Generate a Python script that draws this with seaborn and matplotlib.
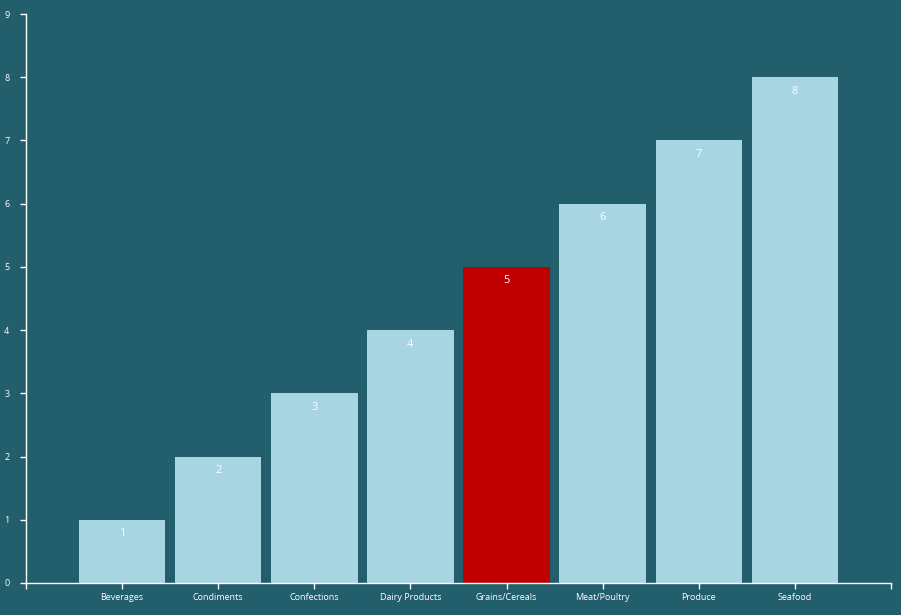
import matplotlib
matplotlib.use("Agg")
import matplotlib.pyplot as plt
import seaborn as sns
import pandas as pd

categories = ["Beverages", "Condiments", "Confections", "Dairy Products",
              "Grains/Cereals", "Meat/Poultry", "Produce", "Seafood"]
values = [1, 2, 3, 4, 5, 6, 7, 8]
highlight = "Grains/Cereals"
y_ticks = [0, 1, 2, 3, 4, 5, 6, 7, 8, 9]

bg = "#225E6C"
bar_col = "#A8D5E2"
hi_col = "#C00000"

sns.set_theme(style="white")
plt.rcParams["font.family"] = ["Open Sans", "DejaVu Sans"]

df = pd.DataFrame({"category": categories, "value": values})
palette = {c: (hi_col if c == highlight else bar_col) for c in categories}

fig = plt.figure(figsize=(9.01, 6.15), dpi=100, facecolor=bg)
ax = fig.add_axes([26/901, 32/615, 865/901, 569/615])
ax.set_facecolor(bg)

sns.barplot(data=df, x="category", y="value", hue="category", palette=palette,
            order=categories, width=0.9, legend=False, ax=ax, saturation=1,
            linewidth=0, edgecolor="none")

for i, v in enumerate(values):
    ax.text(i, v - 0.22, str(v), ha="center", va="center", color="white", fontsize=8)

ax.set_xlim(-1, 8)
ax.set_ylim(0, 9)
ax.set_yticks(y_ticks)
ax.set_yticklabels([str(t) for t in y_ticks])
ax.set_xticks([-1] + list(range(len(categories))) + [8])
ax.set_xticklabels([""] + categories + [""])
ax.set_xlabel("")
ax.set_ylabel("")

for s in ["top", "right"]:
    ax.spines[s].set_visible(False)
for s in ["left", "bottom"]:
    ax.spines[s].set_color("white")
    ax.spines[s].set_linewidth(1)
ax.tick_params(axis="both", colors="white", labelcolor="white", labelsize=6.5,
               length=4, width=1, direction="out", bottom=True, left=True)
ax.tick_params(axis="x", pad=3)
ax.tick_params(axis="y", pad=8)

fig.savefig("out.png", dpi=100, facecolor=bg)
